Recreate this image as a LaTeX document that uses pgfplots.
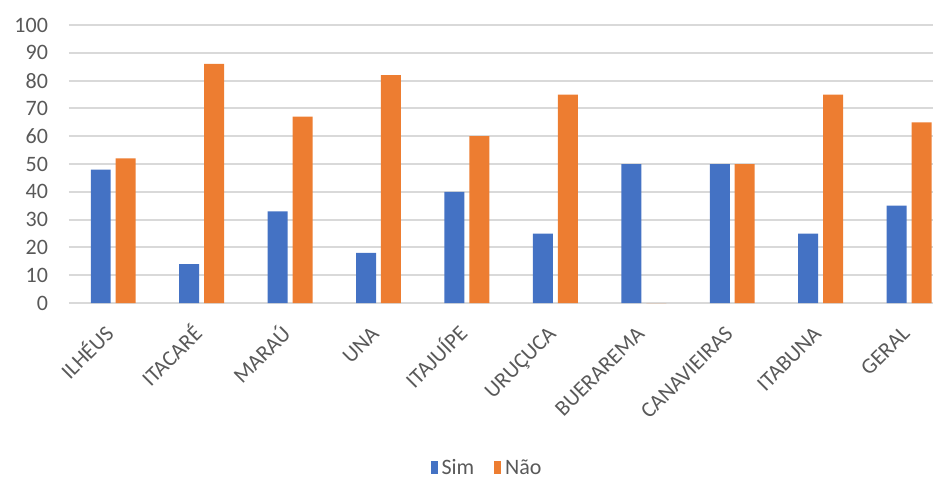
\documentclass[border=0pt]{standalone}
\usepackage{fontspec}
\setmainfont{Carlito}
\usepackage{pgfplots}
\usepackage{pgfplotstable}
\pgfplotsset{compat=1.18}

\definecolor{simblue}{HTML}{4472C4}
\definecolor{naoorange}{HTML}{ED7D31}
\definecolor{txtgray}{HTML}{595959}
\definecolor{gridgray}{HTML}{D9D9D9}

% Percentual de respostas por município
\pgfplotstableread{
x  sim  nao
0  48   52
1  14   86
2  33   67
3  18   82
4  40   60
5  25   75
6  50   0
7  50   50
8  25   75
9  35   65
}\dados

\begin{document}
\begin{tikzpicture}
\useasboundingbox (0,0) rectangle (466.5pt,242pt);
\begin{axis}[
  at={(34.5pt,90.5pt)}, anchor=south west,
  scale only axis,
  width=432pt, height=139pt,
  font=\fontsize{11}{13}\selectfont,
  /pgf/number format/assume math mode=true,
  xmin=-0.5, xmax=9.27,
  ymin=0, ymax=100,
  ytick={0,10,...,100},
  xtick=data,
  xticklabels={ILHÉUS,ITACARÉ,MARAÚ,UNA,ITAJUÍPE,URUÇUCA,BUERAREMA,CANAVIEIRAS,ITABUNA,GERAL},
  xticklabel style={yshift=-16pt, xshift=1pt, rotate=45, anchor=base east,
    inner sep=0pt, text=txtgray},
  yticklabel style={text=txtgray, xshift=-7pt},
  axis line style={draw=none},
  tick style={draw=none},
  ymajorgrids,
  major grid style={color=gridgray, line width=1pt},
  legend style={at={(0.485,-0.595)}, anchor=center, draw=none, fill=none,
    legend columns=2, text=txtgray, inner sep=1pt,
    /tikz/every even column/.append style={column sep=8pt}},
  legend image code/.code={\fill[#1] (0pt,-3pt) rectangle (3.5pt,3.5pt);},
]
\addplot[ybar, bar width=0.226, bar shift=-0.141, fill=simblue, draw=none]
  table[x=x, y=sim] {\dados};
\addlegendentry{Sim}
\addplot[ybar, bar width=0.226, bar shift=0.141, fill=naoorange, draw=none]
  table[x=x, y=nao] {\dados};
\addlegendentry{Não}
\end{axis}
\end{tikzpicture}
\end{document}
